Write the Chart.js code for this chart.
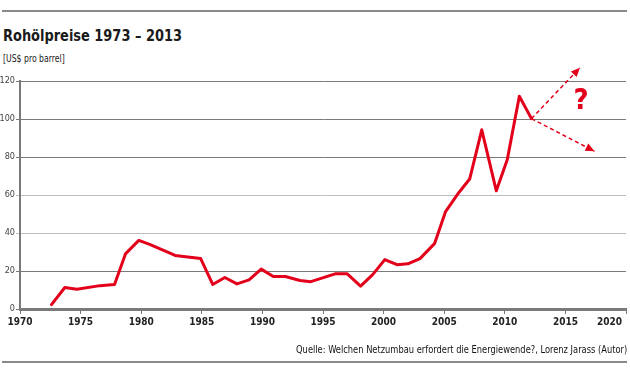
<!DOCTYPE html>
<html>
<head>
<meta charset="utf-8">
<script src="https://cdn.jsdelivr.net/npm/chart.js@4.4.1/dist/chart.umd.min.js"></script>
<style>
  html, body { margin:0; padding:0; background:#fff; }
  #wrap { position:relative; width:630px; height:370px; overflow:hidden; font-family:"DejaVu Sans Condensed","DejaVu Sans",sans-serif; }
  #c { position:absolute; left:0; top:0; }
  .rule { position:absolute; left:2px; width:625px; height:2px; background:#8a8a8a; }
  #title { position:absolute; left:3px; top:26px; font-size:16px; font-weight:bold; color:#1a1a1a; white-space:nowrap; transform:scaleX(0.9); transform-origin:0 0; }
  #sub { position:absolute; left:3px; top:53px; font-size:10px; color:#222; white-space:nowrap; transform:scaleX(0.86); transform-origin:0 0; }
  #src { position:absolute; right:3px; top:343px; font-size:11px; color:#111; white-space:nowrap; transform:scaleX(0.84); transform-origin:100% 0; }
</style>
</head>
<body>
<div id="wrap">
  <div class="rule" style="top:10px"></div>
  <div id="title">Rohölpreise 1973 – 2013</div>
  <div id="sub">[US$ pro barrel]</div>
  <canvas id="c" width="630" height="370"></canvas>
  <div id="src">Quelle: Welchen Netzumbau erfordert die Energiewende?, Lorenz Jarass (Autor)</div>
  <div class="rule" style="top:361px"></div>
</div>
<script>
// Data
const years  = [1972.6, 1973.7, 1974.7, 1976.6, 1977.8, 1978.7, 1979.8, 1980.7, 1982.8, 1984.9,
                1985.9, 1986.9, 1987.9, 1988.9, 1989.9, 1990.9, 1991.9, 1993.1, 1994.0, 1996.0,
                1997.0, 1998.1, 1999.1, 2000.1, 2001.1, 2002.0, 2003.0, 2004.2, 2005.1, 2006.2,
                2007.1, 2008.1, 2009.3, 2010.2, 2011.2, 2012.2];
const prices = [2.3, 11.3, 10.4, 12.3, 12.9, 29.0, 36.1, 34.0, 28.2, 26.6,
                12.9, 16.6, 13.2, 15.3, 21.0, 17.1, 17.1, 15.0, 14.4, 18.5,
                18.5, 12.0, 18.1, 26.0, 23.3, 23.8, 26.5, 34.4, 51.1, 61.2,
                68.4, 94.3, 62.2, 78.5, 112.0, 100.2];
const upYears = [2012.2, 2016.2];
const upValues = [100.2, 127];
const downYears = [2012.2, 2017.4];
const downValues = [100.2, 83];
const xTicks = [1970, 1975, 1980, 1985, 1990, 1995, 2000, 2005, 2010, 2015, 2020];
const yTicks = [0, 20, 40, 60, 80, 100, 120];
const questionMark = { x: 2016.3, y: 109, text: "?" };

const RED = "#e3001b";
const FONT = "'DejaVu Sans Condensed','DejaVu Sans',sans-serif";
const toPts = (xs, ys) => xs.map((x, i) => ({ x: x, y: ys[i] }));
const gridColors = ["#777", "#7a7a7a", "#bdbdbd", "#bdbdbd", "#7a7a7a", "#7a7a7a", "#7a7a7a"];

const lastLabelPlugin = {
  id: "lastLabel",
  beforeDraw(chart) {
    const items = chart.scales.x.getLabelItems();
    const it = items[items.length - 1];
    if (it && !it._shifted) {
      it.options.textAlign = "right";
      it.options.translation[0] -= 4;
      it._shifted = true;
    }
  }
};

const arrowPlugin = {
  id: "arrows",
  afterDatasetsDraw(chart) {
    const ctx = chart.ctx;
    [1, 2].forEach(di => {
      const pts = chart.getDatasetMeta(di).data;
      const a = pts[pts.length - 2], b = pts[pts.length - 1];
      const ang = Math.atan2(b.y - a.y, b.x - a.x);
      const L = 9, W = 4;
      ctx.save();
      ctx.fillStyle = RED;
      ctx.beginPath();
      ctx.moveTo(b.x, b.y);
      ctx.lineTo(b.x - L * Math.cos(ang) + W * Math.sin(ang), b.y - L * Math.sin(ang) - W * Math.cos(ang));
      ctx.lineTo(b.x - L * Math.cos(ang) - W * Math.sin(ang), b.y - L * Math.sin(ang) + W * Math.cos(ang));
      ctx.closePath();
      ctx.fill();
      ctx.restore();
    });
    const xs = chart.scales.x, ys = chart.scales.y;
    ctx.save();
    ctx.fillStyle = RED;
    ctx.font = "bold 29px " + FONT;
    ctx.textAlign = "center";
    ctx.textBaseline = "middle";
    ctx.fillText(questionMark.text, xs.getPixelForValue(questionMark.x), ys.getPixelForValue(questionMark.y));
    ctx.restore();
  }
};

new Chart(document.getElementById("c"), {
  type: "line",
  data: {
    datasets: [
      { data: toPts(years, prices), borderColor: RED, borderWidth: 3, pointRadius: 0, tension: 0, borderJoinStyle: "round", borderCapStyle: "round" },
      { data: toPts(upYears, upValues), borderColor: RED, borderWidth: 1.5, borderDash: [4, 3], pointRadius: 0, clip: false },
      { data: toPts(downYears, downValues), borderColor: RED, borderWidth: 1.5, borderDash: [4, 3], pointRadius: 0, clip: false }
    ]
  },
  options: {
    responsive: false,
    animation: false,
    layout: { padding: { left: 0, right: 4, top: 81, bottom: 38 } },
    plugins: { legend: { display: false }, tooltip: { enabled: false } },
    scales: {
      x: {
        type: "linear", min: 1970, max: 2020,
        afterBuildTicks: s => { s.ticks = xTicks.map(v => ({ value: v })); },
        afterFit: s => { s.height = 23; s.paddingLeft = 0; s.paddingRight = 0; },
        grid: { drawOnChartArea: false, drawTicks: true, tickLength: 5, color: "#777", lineWidth: 1 },
        border: { display: true, color: "#7a7a7a", width: 3 },
        ticks: { color: "#222", padding: 2, maxRotation: 0, autoSkip: false, font: { family: FONT, size: 10, weight: "bold" }, callback: v => String(v) }
      },
      y: {
        min: 0, max: 120,
        afterBuildTicks: s => { s.ticks = yTicks.map(v => ({ value: v })); },
        afterFit: s => { s.width = 20; s.paddingTop = 0; s.paddingBottom = 0; },
        grid: { color: ctx => gridColors[ctx.index] || "#777", lineWidth: 1, drawTicks: true, tickLength: 4 },
        border: { display: true, color: "#7a7a7a", width: 2 },
        ticks: { color: "#444", padding: 1, font: { family: FONT, size: 9 } }
      }
    }
  },
  plugins: [lastLabelPlugin, arrowPlugin]
});
</script>
</body>
</html>
